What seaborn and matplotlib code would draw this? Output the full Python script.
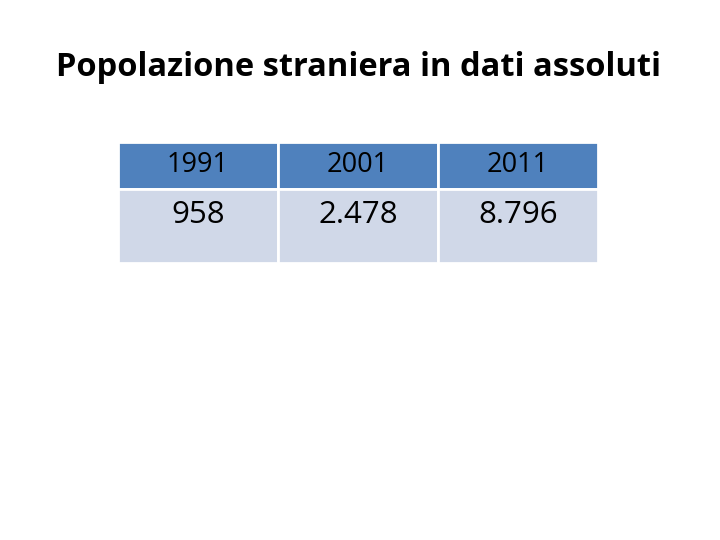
import seaborn as sns
import matplotlib.pyplot as plt
from matplotlib.patches import Rectangle

sns.set_theme(style="white")

title = "Popolazione straniera in dati assoluti"
years = ["1991", "2001", "2011"]
values = ["958", "2.478", "8.796"]

fig = plt.figure(figsize=(7.2, 5.4), dpi=100)
ax = fig.add_axes([0, 0, 1, 1])
ax.set_xlim(0, 720)
ax.set_ylim(540, 0)
ax.axis("off")

ax.text(359, 68, title, ha="center", va="center", fontsize=23.5,
        fontweight="bold", family="Open Sans", color="black")

left, col_w = 118, 160
head_top, head_h = 142, 47
row_h = 74
for i, (yr, val) in enumerate(zip(years, values)):
    x = left + i * col_w
    ax.add_patch(Rectangle((x, head_top), col_w, head_h, facecolor="#4F81BD",
                           edgecolor="white", lw=2))
    ax.add_patch(Rectangle((x, head_top + head_h), col_w, row_h,
                           facecolor="#D0D8E8", edgecolor="white", lw=2))
    ax.text(x + col_w / 2, head_top + head_h / 2, yr, ha="center", va="center",
            fontsize=19.5, family="Open Sans", color="black")
    ax.text(x + col_w / 2, head_top + head_h + 26, val, ha="center", va="center",
            fontsize=22.5, family="Open Sans", color="black")

fig.savefig("out.png", dpi=100)
